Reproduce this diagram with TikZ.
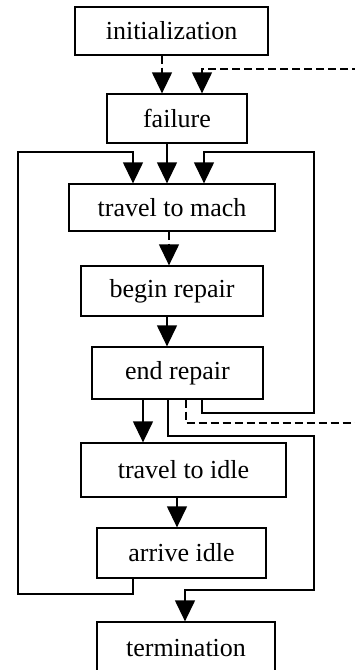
\documentclass[tikz,border=0pt]{standalone}
\usepackage{fontspec}
\setmainfont{Liberation Serif}
\usetikzlibrary{arrows.meta}
\begin{document}
\begin{tikzpicture}[x=1pt,y=-1pt,
  box/.style={draw,line width=1.3pt,inner sep=0pt,font=\fontsize{26}{30}\selectfont},
  arr/.style={line width=1.3pt,-{Triangle[length=21pt,width=20pt]}},
  ln/.style={line width=1.3pt},
  dsh/.style={dash pattern=on 8pt off 4pt}]
\useasboundingbox (0,0) rectangle (355,670);
\node[box,minimum width=193pt,minimum height=48pt] (init) at (171.5,31) {initialization};
\node[box,minimum width=140pt,minimum height=49pt] (fail) at (177,118.5) {failure};
\node[box,minimum width=206pt,minimum height=47pt] (tmach) at (172,207.5) {travel to mach};
\node[box,minimum width=182pt,minimum height=50pt] (brep) at (172,291) {begin repair};
\node[box,minimum width=171pt,minimum height=52pt] (erep) at (177.5,373) {end repair};
\node[box,minimum width=205pt,minimum height=54pt] (tidle) at (183.5,470) {travel to idle};
\node[box,minimum width=169pt,minimum height=50pt] (aidle) at (181.5,553) {arrive idle};
\node[box,minimum width=178pt,minimum height=52pt] (term) at (186,648) {termination};
\coordinate (rt1) at (360,69);
\coordinate (rt2) at (360,423);
% init -> failure
\draw[arr,dsh] (162,0 |- init.south) -- (162,0 |- fail.north);
% external dashed -> failure
\draw[arr,dsh] (rt1) -- (202,69) -- (202,0 |- fail.north);
% failure -> travel to mach
\draw[arr] (167,0 |- fail.south) -- (167,0 |- tmach.north);
% left loop: arrive idle -> travel to mach
\draw[arr] (133,0 |- aidle.south) -- (133,594) -- (18,594) -- (18,152) -- (133,152) -- (133,0 |- tmach.north);
% right loop: end repair -> travel to mach
\draw[arr] (202,0 |- erep.south) -- (202,413) -- (314,413) -- (314,152) -- (204,152) -- (204,0 |- tmach.north);
% travel to mach -> begin repair
\draw[arr,dsh] (169,0 |- tmach.south) -- (169,0 |- brep.north);
% begin repair -> end repair
\draw[arr] (167,0 |- brep.south) -- (167,0 |- erep.north);
% end repair -> travel to idle
\draw[arr] (143,0 |- erep.south) -- (143,0 |- tidle.north);
% end repair -> external dashed
\draw[ln,dsh] (186,0 |- erep.south) -- (186,423) -- (rt2);
% end repair -> termination
\draw[arr] (168,0 |- erep.south) -- (168,436) -- (314,436) -- (314,590) -- (185,590) -- (185,0 |- term.north);
% travel to idle -> arrive idle
\draw[arr] (177,0 |- tidle.south) -- (177,0 |- aidle.north);
\end{tikzpicture}
\end{document}
